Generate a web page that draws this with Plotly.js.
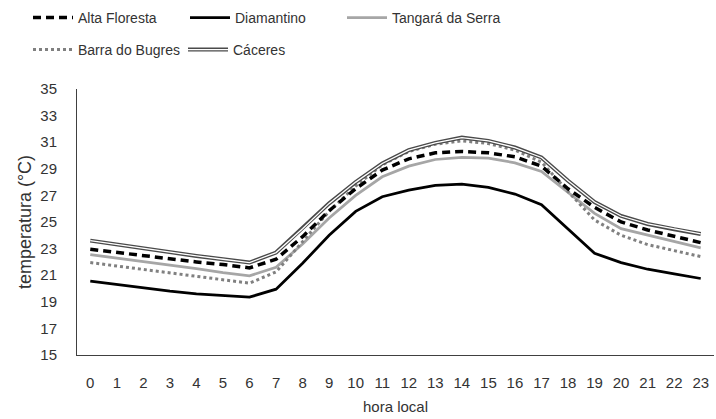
<!DOCTYPE html>
<html>
<head>
<meta charset="utf-8">
<script src="https://cdn.plot.ly/plotly-3.0.1.min.js"></script>
<style>html,body{margin:0;padding:0;background:#fff;}#chart{width:716px;height:419px;}</style>
</head>
<body>
<div id="chart"></div>
<script>
const hours = [0,1,2,3,4,5,6,7,8,9,10,11,12,13,14,15,16,17,18,19,20,21,22,23];
const altaFloresta = [22.95,22.7,22.45,22.2,22.0,21.8,21.55,22.2,23.9,25.85,27.5,28.9,29.75,30.2,30.3,30.2,29.9,29.2,27.5,26.1,25.0,24.4,23.9,23.45];
const diamantino   = [20.55,20.3,20.0,19.8,19.6,19.45,19.35,19.95,21.9,24.0,25.8,26.9,27.4,27.75,27.85,27.6,27.1,26.3,24.5,22.65,21.95,21.45,21.1,20.75];
const tangara      = [22.55,22.3,22.05,21.8,21.5,21.2,20.95,21.6,23.35,25.3,27.0,28.4,29.2,29.7,29.85,29.8,29.45,28.8,27.2,25.65,24.5,24.0,23.5,23.05];
const barraBugres  = [21.95,21.7,21.45,21.2,20.95,20.65,20.4,21.25,23.5,25.8,27.7,29.3,30.3,30.85,31.1,30.9,30.4,29.5,27.3,25.15,24.0,23.3,22.85,22.4];
const caceres      = [23.6,23.3,23.0,22.7,22.45,22.2,21.95,22.7,24.5,26.4,28.0,29.4,30.4,30.95,31.35,31.1,30.6,29.85,28.1,26.5,25.45,24.85,24.45,24.1];
const names = ['Alta Floresta','Diamantino','Tangará da Serra','Barra do Bugres','Cáceres'];
const tickVals = [15,17,19,21,23,25,27,29,31,33,35];

const FONT = 'Liberation Sans, Arial, sans-serif';
const TXT = '#333333';

const traces = [
  {x: hours, y: tangara, name: names[2], mode: 'lines', legend: 'legend3',
   line: {color: '#a6a6a6', width: 2.75}},
  {x: hours, y: diamantino, name: names[1], mode: 'lines', legend: 'legend2',
   line: {color: '#000000', width: 2.75}},
  {x: hours, y: barraBugres, name: names[3], mode: 'lines', legend: 'legend4',
   line: {color: '#808080', width: 3, dash: 'dot'}},
  {x: hours, y: altaFloresta, name: names[0], mode: 'lines', legend: 'legend',
   line: {color: '#000000', width: 3.5, dash: '8px,5px'}},
  {x: hours, y: caceres, name: names[4], mode: 'lines', legend: 'legend5',
   line: {color: '#4a4a4a', width: 4}},
  {x: hours, y: caceres, name: '', mode: 'lines', legend: 'legend6',
   line: {color: '#ffffff', width: 1.3}, hoverinfo: 'skip'}
];

function leg(px, py) {
  return {
    orientation: 'h', xref: 'container', yref: 'container', xanchor: 'left', yanchor: 'middle',
    x: px / 716, y: 1 - py / 419,
    bgcolor: 'rgba(0,0,0,0)', borderwidth: 0,
    font: {family: FONT, size: 14, color: TXT}, itemwidth: 40
  };
}

const layout = {
  width: 716, height: 419,
  margin: {l: 77, r: 2, t: 89, b: 64},
  paper_bgcolor: '#ffffff', plot_bgcolor: '#ffffff',
  font: {family: FONT, size: 15, color: TXT},
  showlegend: true,
  legend: leg(28, 18),
  legend2: leg(185, 18),
  legend3: leg(342, 18),
  legend4: leg(28, 50),
  legend5: leg(183, 50),
  legend6: leg(183, 50),
  xaxis: {
    range: [-0.5, 23.5], tickmode: 'array', tickvals: hours, ticktext: hours.map(String),
    showgrid: false, zeroline: false, showline: true, linecolor: '#404040', linewidth: 1,
    ticks: '', ticklabelstandoff: 14, tickfont: {family: FONT, size: 15, color: TXT},
    title: {text: 'hora local', font: {family: FONT, size: 15, color: TXT}, standoff: 11}
  },
  yaxis: {
    range: [15, 35], tickmode: 'array', tickvals: tickVals, ticktext: tickVals.map(String),
    showgrid: false, zeroline: false, showline: true, linecolor: '#404040', linewidth: 1,
    ticks: '', ticklabelstandoff: 16, tickfont: {family: FONT, size: 15, color: TXT},
    title: {text: 'temperatura (°C)', font: {family: FONT, size: 18, color: TXT}, standoff: 4}
  }
};

Plotly.newPlot('chart', traces, layout, {displayModeBar: false, staticPlot: true});
</script>
</body>
</html>
